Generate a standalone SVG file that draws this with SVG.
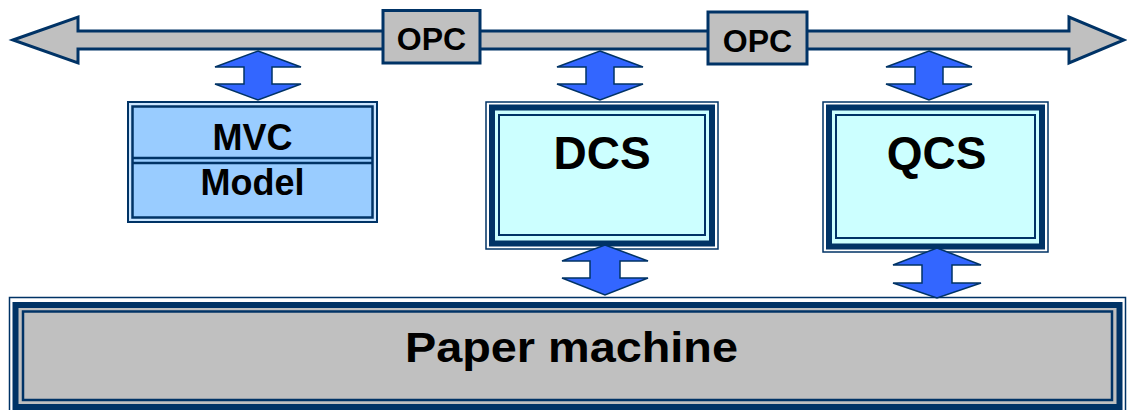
<svg xmlns="http://www.w3.org/2000/svg" width="1127" height="410" viewBox="0 0 1127 410">
<style>
.nv{stroke:#003366;fill:none}
.t{font-family:"Liberation Sans",Arial,sans-serif;font-weight:bold;fill:#000;text-anchor:middle}
.dbl{fill:#3366FF;stroke:#003366;stroke-width:1.5;stroke-linejoin:miter}
</style>
<rect width="1127" height="410" fill="#fff"/>
<g id="bus">
<polygon points="13,40 78,17 78,31 1069,31 1069,17 1124,40 1069,63 1069,49 78,49 78,63" fill="#C0C0C0" stroke="#003366" stroke-width="3" stroke-linejoin="miter"/>
</g>
<g id="opc1">
<rect x="383" y="10.5" width="97" height="52.5" fill="#C0C0C0" stroke="#003366" stroke-width="3"/>
<text class="t" x="431.5" y="50" font-size="32">OPC</text>
</g>
<g id="opc2">
<rect x="708" y="12" width="99" height="52" fill="#C0C0C0" stroke="#003366" stroke-width="3"/>
<text class="t" x="757.5" y="52" font-size="32">OPC</text>
</g>
<g id="mvc">
<rect x="128" y="102" width="249" height="120" fill="#CCE6FF" stroke="#003366" stroke-width="2"/>
<rect x="132.5" y="106.5" width="240" height="111" fill="#99CCFF" stroke="#003366" stroke-width="2.5"/>
<line x1="132.5" y1="158" x2="372.5" y2="158" stroke="#003366" stroke-width="2.5"/>
<line x1="132.5" y1="163" x2="372.5" y2="163" stroke="#003366" stroke-width="2.5"/>
<text class="t" x="252.5" y="150" font-size="36">MVC</text>
<text class="t" x="252.5" y="195" font-size="36">Model</text>
</g>
<g id="dcs">
<rect x="486" y="102" width="232" height="147" fill="#fff" stroke="#003366" stroke-width="1.5"/>
<rect x="492" y="107.5" width="220" height="136" fill="#CCFFFF" stroke="#003366" stroke-width="6"/>
<rect x="499" y="115" width="206" height="120" fill="none" stroke="#003366" stroke-width="2"/>
<text class="t" x="602" y="169" font-size="46">DCS</text>
</g>
<g id="qcs">
<rect x="823" y="102" width="225" height="150" fill="#fff" stroke="#003366" stroke-width="1.5"/>
<rect x="829" y="107.5" width="213" height="139" fill="#CCFFFF" stroke="#003366" stroke-width="6"/>
<rect x="836" y="115" width="199" height="123" fill="none" stroke="#003366" stroke-width="2"/>
<text class="t" x="936.5" y="169" font-size="46">QCS</text>
</g>
<g id="paper-machine">
<rect x="9.5" y="297.5" width="1116" height="115" fill="#fff" stroke="#003366" stroke-width="1.5"/>
<rect x="15.5" y="305" width="1104" height="102" fill="#C0C0C0" stroke="#003366" stroke-width="6"/>
<rect x="23" y="311.5" width="1089" height="88.5" fill="none" stroke="#003366" stroke-width="2.5"/>
<text class="t" x="571.5" y="362" font-size="43" textLength="333" lengthAdjust="spacingAndGlyphs">Paper machine</text>
</g>
<g id="connectors">
<polygon class="dbl" points="258,51 301,67 272,67 272,84 301,84 258,100 215,84 244,84 244,67 215,67"/>
<polygon class="dbl" points="600,51 643,67 614,67 614,84 643,84 600,100 557,84 586,84 586,67 557,67"/>
<polygon class="dbl" points="929,51 972,67 943,67 943,84 972,84 929,100 886,84 915,84 915,67 886,67"/>
<polygon class="dbl" points="605,245 648,261 620,261 620,278 648,278 605,295 562,278 590,278 590,261 562,261"/>
<polygon class="dbl" points="937,248 981,265 952,265 952,283 981,283 937,298 893,283 922,283 922,265 893,265"/>
</g>
</svg>
